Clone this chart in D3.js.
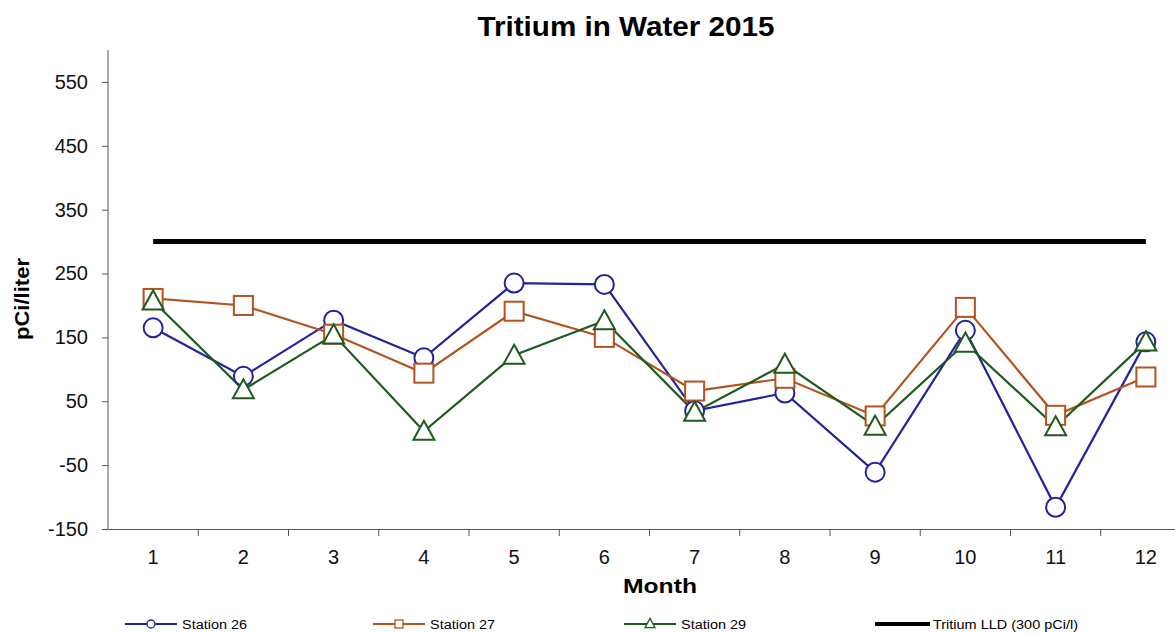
<!DOCTYPE html>
<html>
<head>
<meta charset="utf-8">
<script src="https://cdn.jsdelivr.net/npm/d3@7"></script>
<style>
  body { margin: 0; background: #fff; }
  svg { font-family: "Liberation Sans", Arial, sans-serif; display: block; }
</style>
</head>
<body>
<svg id="chart" width="1175" height="633"></svg>
<script>
const months = [1, 2, 3, 4, 5, 6, 7, 8, 9, 10, 11, 12];
const station26 = [165, 89, 177, 118, 235, 233, 35, 63, -61, 161, -116, 143];
const station27 = [211, 200, 155, 94, 191, 150, 66, 86, 27, 197, 28, 88];
const station29 = [207, 68, 154, 3, 122, 176, 33, 108, 11, 141, 10, 143];
const lld = [300, 300, 300, 300, 300, 300, 300, 300, 300, 300, 300, 300];
const yTicks = [-150, -50, 50, 150, 250, 350, 450, 550];

const svg = d3.select("#chart");
const plotLeft = 108, plotRight = 1191, plotTop = 50, plotBottom = 529;

const x = d3.scaleBand().domain(months).range([plotLeft, plotRight]);
const y = d3.scaleLinear().domain([-150, 600]).range([plotBottom, plotTop]);
const cx = m => x(m) + x.bandwidth() / 2;

// axes
const yAxis = svg.append("g")
  .attr("transform", "translate(" + plotLeft + ",0)")
  .call(d3.axisLeft(y).tickValues(yTicks).tickFormat(d => String(d)).tickSize(6).tickPadding(14));
yAxis.select(".domain").attr("stroke", "#555").attr("d", "M0," + plotTop + "V" + plotBottom);
yAxis.selectAll("line").attr("stroke", "#555");
yAxis.selectAll("text").style("font-size", "20px").attr("fill", "#111");

const xAxis = svg.append("g")
  .attr("transform", "translate(0," + plotBottom + ")")
  .call(d3.axisBottom(x).tickSize(0).tickPadding(21));
xAxis.select(".domain").attr("stroke", "#555");
xAxis.selectAll("text").style("font-size", "20px").attr("fill", "#111");
// category separators
svg.append("g").selectAll("line")
  .data(months.slice(1))
  .enter()
  .append("line")
  .attr("x1", d => x(d)).attr("x2", d => x(d))
  .attr("y1", plotBottom).attr("y2", plotBottom + 7)
  .attr("stroke", "#555");

// labels
svg.append("text")
  .attr("x", 626).attr("y", 36)
  .attr("text-anchor", "middle")
  .attr("textLength", 297).attr("lengthAdjust", "spacingAndGlyphs")
  .style("font-size", "27px").style("font-weight", "bold")
  .text("Tritium in Water 2015");

svg.append("text")
  .attr("transform", "translate(29,299) rotate(-90)")
  .attr("text-anchor", "middle")
  .attr("textLength", 82).attr("lengthAdjust", "spacingAndGlyphs")
  .style("font-size", "20px").style("font-weight", "bold")
  .text("pCi/liter");

svg.append("text")
  .attr("x", 660).attr("y", 593)
  .attr("text-anchor", "middle")
  .attr("textLength", 74).attr("lengthAdjust", "spacingAndGlyphs")
  .style("font-size", "21px").style("font-weight", "bold")
  .text("Month");

const line = d3.line().x((d, i) => cx(months[i])).y(d => y(d));

// LLD line
svg.append("path")
  .datum(lld)
  .attr("d", line)
  .attr("fill", "none")
  .attr("stroke", "#000")
  .attr("stroke-width", 5);

const series = [
  { name: "Station 26", values: station26, color: "#23239b", shape: "circle" },
  { name: "Station 27", values: station27, color: "#b3541e", shape: "square" },
  { name: "Station 29", values: station29, color: "#1f5a1f", shape: "triangle" }
];

function marker(g, shape, color, size) {
  if (shape === "circle") {
    g.append("circle").attr("r", size / 2);
  } else if (shape === "square") {
    g.append("rect").attr("x", -size / 2).attr("y", -size / 2)
      .attr("width", size).attr("height", size);
  } else {
    const h = size * 0.9;
    g.append("path").attr("d", "M0," + (-h / 2 - 2) + "L" + (size / 2 + 1) + "," + (h / 2) + "L" + (-size / 2 - 1) + "," + (h / 2) + "Z");
  }
  g.selectAll("*").attr("fill", "#fff").attr("stroke", color).attr("stroke-width", 2);
}

series.forEach(s => {
  svg.append("path")
    .datum(s.values)
    .attr("d", line)
    .attr("fill", "none")
    .attr("stroke", s.color)
    .attr("stroke-width", 2.2);
});
series.forEach(s => {
  s.values.forEach((v, i) => {
    const g = svg.append("g").attr("transform", "translate(" + cx(months[i]) + "," + y(v) + ")");
    marker(g, s.shape, s.color, 19);
  });
});

// legend
const legendY = 624;
const legendX = [125, 373, 624];
series.forEach((s, i) => {
  const lx = legendX[i];
  svg.append("line")
    .attr("x1", lx).attr("x2", lx + 52)
    .attr("y1", legendY).attr("y2", legendY)
    .attr("stroke", s.color).attr("stroke-width", 2);
  const g = svg.append("g").attr("transform", "translate(" + (lx + 26) + "," + legendY + ")");
  marker(g, s.shape, s.color, 8);
  g.selectAll("*").attr("stroke-width", 1.3);
  svg.append("text")
    .attr("x", lx + 57).attr("y", legendY + 4.5)
    .attr("textLength", 65).attr("lengthAdjust", "spacingAndGlyphs")
    .style("font-size", "12.5px")
    .text(s.name);
});
svg.append("line")
  .attr("x1", 875).attr("x2", 930)
  .attr("y1", legendY).attr("y2", legendY)
  .attr("stroke", "#000").attr("stroke-width", 4);
svg.append("text")
  .attr("x", 933).attr("y", legendY + 4.5)
  .attr("textLength", 145).attr("lengthAdjust", "spacingAndGlyphs")
  .style("font-size", "12.5px")
  .text("Tritium LLD (300 pCi/l)");
</script>
</body>
</html>
